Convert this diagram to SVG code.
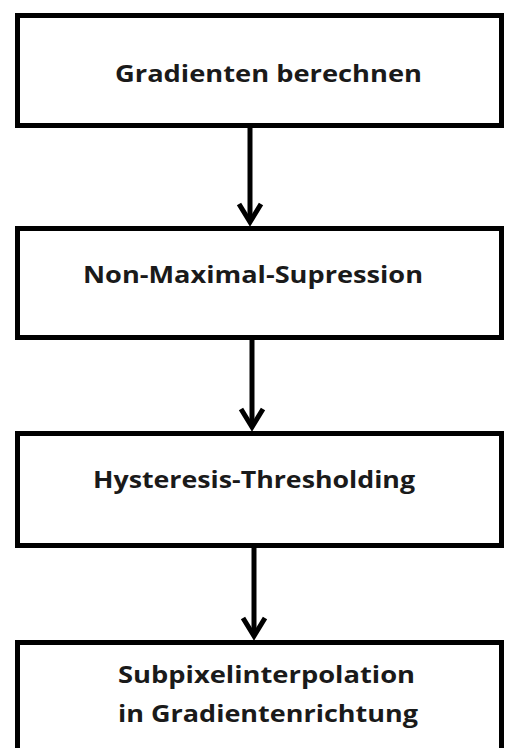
<svg xmlns="http://www.w3.org/2000/svg" width="505" height="748" viewBox="0 0 505 748">
<style>
.box{fill:#fff;stroke:#000;stroke-width:5}
.lbl{font-family:"Open Sans",Lato,sans-serif;font-weight:bold;font-size:24px;fill:#1a1a1a;font-variant-ligatures:none}
.con{fill:none;stroke:#000;stroke-width:5}
.head{fill:none;stroke:#000;stroke-width:5;stroke-linejoin:miter;stroke-linecap:butt}
</style>
<rect width="505" height="748" fill="#fff"/>
<g id="n1"><rect class="box" x="17.5" y="15.5" width="484" height="110"/><text class="lbl" x="115" y="82" textLength="307" lengthAdjust="spacingAndGlyphs">Gradienten berechnen</text></g>
<g id="n2"><rect class="box" x="17.5" y="228.5" width="484" height="109"/><text class="lbl" x="83" y="283" textLength="340" lengthAdjust="spacingAndGlyphs">Non-Maximal-Supression</text></g>
<g id="n3"><rect class="box" x="17.5" y="433.5" width="484" height="112"/><text class="lbl" x="93" y="488" textLength="322" lengthAdjust="spacingAndGlyphs">Hysteresis-Thresholding</text></g>
<g id="n4"><rect class="box" x="17.5" y="642.5" width="484" height="120"/><text class="lbl" x="118" y="683" textLength="297" lengthAdjust="spacingAndGlyphs">Subpixelinterpolation</text><text class="lbl" x="118" y="722" textLength="300" lengthAdjust="spacingAndGlyphs">in Gradientenrichtung</text></g>
<g id="connectors">
<line class="con" x1="250" y1="127" x2="250" y2="222"/>
<polyline class="head" points="239,204 250,222 261,204"/>
<line class="con" x1="252" y1="339" x2="252" y2="427"/>
<polyline class="head" points="241,409 252,427 263,409"/>
<line class="con" x1="254" y1="547" x2="254" y2="636"/>
<polyline class="head" points="243,618 254,636 265,618"/>
</g>
</svg>
